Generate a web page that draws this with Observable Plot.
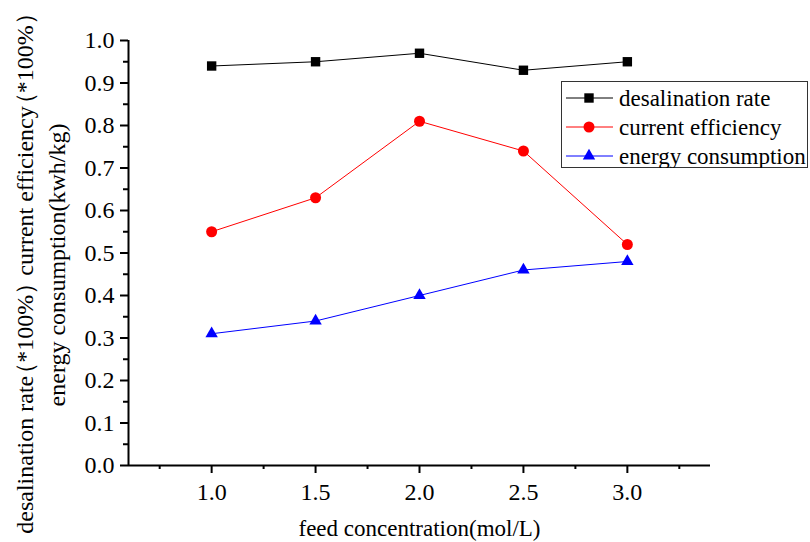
<!DOCTYPE html>
<html><head><meta charset="utf-8">
<script src="https://cdn.jsdelivr.net/npm/d3@7"></script>
<script src="https://cdn.jsdelivr.net/npm/@observablehq/plot@0.6"></script>
<style>
body{margin:0;background:#fff}
#wrap{position:relative;width:810px;height:542px;font-family:"Liberation Serif","Times New Roman",serif}
</style>
</head><body><div id="wrap"></div>
<script>
const concentrations = [1.0, 1.5, 2.0, 2.5, 3.0];
const desalinationRate = [0.94, 0.95, 0.97, 0.93, 0.95];
const currentEfficiency = [0.55, 0.63, 0.81, 0.74, 0.52];
const energyConsumption = [0.31, 0.34, 0.40, 0.46, 0.48];
const seriesNames = ["desalination rate", "current efficiency", "energy consumption"];
const seriesColors = ["black", "red", "blue"];
const seriesSymbols = ["square", "circle", "triangle"];
const seriesRadius = [5.3, 5.5, 4.6];
const xDomain = [0.6, 3.4];
const yDomain = [0, 1.0];
const xMajorTicks = [1.0, 1.5, 2.0, 2.5, 3.0];
const xMinorTicks = [0.75, 1.25, 1.75, 2.25, 2.75, 3.25];
const yMajorTicks = [0, 0.1, 0.2, 0.3, 0.4, 0.5, 0.6, 0.7, 0.8, 0.9, 1.0];
const yMinorTicks = [0.05, 0.15, 0.25, 0.35, 0.45, 0.55, 0.65, 0.75, 0.85, 0.95];
const xTitle = "feed concentration(mol/L)";
const yTitleLine1 = "desalination rate（*100%） current efficiency（*100%）";
const yTitleLine2 = "energy consumption(kwh/kg)";

const seriesValues = [desalinationRate, currentEfficiency, energyConsumption];
const data = seriesValues.flatMap((vals, s) =>
  vals.map((v, i) => ({x: concentrations[i], y: v, series: seriesNames[s]})));

const font = "Liberation Serif";
const marks = [];
seriesNames.forEach((name, s) => {
  const d = data.filter(p => p.series === name);
  marks.push(Plot.line(d, {x: "x", y: "y", stroke: seriesColors[s], strokeWidth: 1}));
  marks.push(Plot.dot(d, {x: "x", y: "y", symbol: () => seriesSymbols[s], r: seriesRadius[s], fill: seriesColors[s], stroke: "none"}));
});

const chart = Plot.plot({
  width: 810, height: 542,
  marginLeft: 128, marginRight: 100, marginTop: 40, marginBottom: 77,
  style: {fontFamily: font, background: "white", color: "black"},
  x: {domain: xDomain},
  y: {domain: yDomain},
  marks: [
    Plot.axisX(xMinorTicks, {tickSize: 4, tickFormat: () => "", strokeWidth: 2, label: null}),
    Plot.axisX(xMajorTicks, {tickSize: 8, tickPadding: 9, tickFormat: d3.format(".1f"), fontSize: 24, strokeWidth: 2, label: null}),
    Plot.axisY(yMinorTicks, {tickSize: 5, tickFormat: () => "", strokeWidth: 2, label: null}),
    Plot.axisY(yMajorTicks, {tickSize: 8, tickPadding: 6, tickFormat: d3.format(".1f"), fontSize: 24, strokeWidth: 2, label: null}),
    Plot.ruleY([yDomain[0]], {strokeWidth: 2}),
    Plot.ruleX([xDomain[0]], {strokeWidth: 2}),
    ...marks,
    Plot.text([xTitle], {frameAnchor: "bottom", dy: 63, fontSize: 23, fontFamily: font, lineAnchor: "middle"}),
    Plot.text([yTitleLine1], {frameAnchor: "left", textAnchor: "middle", rotate: -90, dx: -103, dy: 20, fontSize: 24, fontFamily: font, lineAnchor: "middle", className: "ytitle1"}),
    Plot.text([yTitleLine2], {frameAnchor: "left", textAnchor: "middle", rotate: -90, dx: -71, dy: 12, fontSize: 24, fontFamily: font, lineAnchor: "middle"})
  ]
});
// narrow the full-width parentheses (their fallback glyphs are 1em wide)
d3.select(chart).selectAll(".ytitle1 text").each(function() {
  const t = d3.select(this);
  const txt = t.text();
  t.text(null);
  txt.split(/([（）])/).filter(s => s.length).forEach(seg => {
    const ts = t.append("tspan").text(seg);
    if (seg === "（") ts.attr("dx", -10).style("letter-spacing", "-1px");
    if (seg === "）") ts.style("letter-spacing", "-11px");
  });
});
const wrap = document.getElementById("wrap");
wrap.appendChild(chart);

// legend
const lw = 247, lh = 87;
const leg = d3.create("svg").attr("width", lw).attr("height", lh)
  .style("font-family", font).style("position", "absolute").style("left", "561px").style("top", "81px");
leg.append("rect").attr("x", 0.5).attr("y", 0.5).attr("width", lw - 1).attr("height", lh - 1)
  .attr("fill", "white").attr("stroke", "#333").attr("stroke-width", 1);
const symMap = {square: d3.symbolSquare, circle: d3.symbolCircle, triangle: d3.symbolTriangle};
seriesNames.forEach((name, s) => {
  const cy = 17 + s * 29;
  const g = leg.append("g");
  g.append("line").attr("x1", 5).attr("x2", 52).attr("y1", cy).attr("y2", cy)
    .attr("stroke", seriesColors[s]).attr("stroke-width", 1);
  g.append("path").attr("transform", `translate(28,${cy})`)
    .attr("d", d3.symbol(symMap[seriesSymbols[s]], Math.PI * seriesRadius[s] ** 2)())
    .attr("fill", seriesColors[s]);
  g.append("text").attr("x", 58).attr("y", cy).attr("dy", "0.33em")
    .attr("font-size", 23).text(name);
});
wrap.appendChild(leg.node());
</script>
</body></html>
